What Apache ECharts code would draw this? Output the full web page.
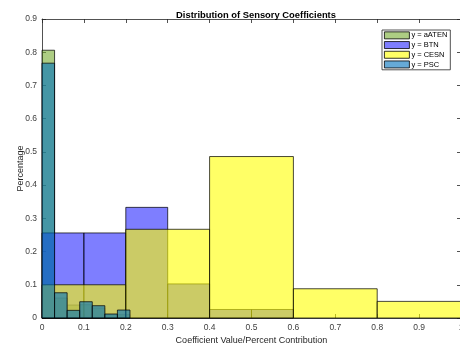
<!DOCTYPE html>
<html>
<head>
<meta charset="utf-8">
<script src="https://cdn.jsdelivr.net/npm/echarts@6/dist/echarts.min.js"></script>
<style>
html,body{margin:0;padding:0;background:#fff;}
#c{width:460px;height:344px;}
</style>
</head>
<body>
<div id="c"></div>
<script>
// ---- data ----
const seriesNames = ['y = aATEN', 'y = BTN', 'y = CESN', 'y = PSC'];
const aatenEdges = [0, 0.03, 0.06, 0.09, 0.12, 0.15, 0.18, 0.21];
const aatenValues = [0.806, 0.06, 0.039, 0.04, 0.03, 0.01, 0.01];
const btnEdges = [0, 0.1, 0.2, 0.3, 0.4, 0.5, 0.6];
const btnValues = [0.256, 0.256, 0.333, 0.1026, 0.0256, 0.0256];
const cesnEdges = [0, 0.2, 0.4, 0.6, 0.8, 1.0];
const cesnValues = [0.1, 0.267, 0.486, 0.088, 0.05];
const pscEdges = [0, 0.03, 0.06, 0.09, 0.12, 0.15, 0.18, 0.21];
const pscValues = [0.767, 0.076, 0.023, 0.049, 0.037, 0.012, 0.024];
const xTicks = [0, 0.1, 0.2, 0.3, 0.4, 0.5, 0.6, 0.7, 0.8, 0.9, 1];
const yTicks = [0, 0.1, 0.2, 0.3, 0.4, 0.5, 0.6, 0.7, 0.8, 0.9];

const fillColors = ['rgba(119,172,48,0.6)', 'rgba(40,40,255,0.6)', 'rgba(255,255,0,0.6)', 'rgba(0,114,189,0.6)'];
const allEdges = [aatenEdges, btnEdges, cesnEdges, pscEdges];
const allValues = [aatenValues, btnValues, cesnValues, pscValues];

function toBins(edges, values) {
  return values.map((v, i) => [edges[i], edges[i + 1], v]);
}

const chart = echarts.init(document.getElementById('c'), null, {renderer: 'canvas'});
const axisColor = '#262626';
const labelColor = '#404040';
const font = 'Liberation Sans, Arial, sans-serif';

const series = seriesNames.map((name, k) => ({
  type: 'custom',
  name: name,
  xAxisIndex: 0,
  yAxisIndex: 0,
  itemStyle: {color: fillColors[k]},
  data: toBins(allEdges[k], allValues[k]),
  encode: {x: [0, 1], y: 2},
  z: 2 + k,
  renderItem: function (params, api) {
    const p0 = api.coord([api.value(0), api.value(2)]);
    const p1 = api.coord([api.value(1), 0]);
    return {
      type: 'rect',
      shape: {x: p0[0], y: p0[1], width: p1[0] - p0[0], height: p1[1] - p0[1]},
      style: {fill: fillColors[k], stroke: 'rgba(0,0,0,0.9)', lineWidth: 0.8}
    };
  }
}));

const option = {
  animation: false,
  backgroundColor: '#fff',
  title: {
    text: 'Distribution of Sensory Coefficients',
    left: 251,
    top: 6,
    textAlign: 'center',
    textStyle: {fontFamily: font, fontSize: 9.4, fontWeight: 'bold', color: '#000'}
  },
  legend: {
    orient: 'vertical',
    left: 382,
    top: 30,
    icon: 'rect',
    itemWidth: 25,
    itemHeight: 7,
    itemGap: 1,
    padding: [1, 3, 1, 2],
    borderColor: '#262626',
    borderWidth: 0.8,
    backgroundColor: '#fff',
    textStyle: {fontFamily: font, fontSize: 7.5, color: '#000', lineHeight: 8.7, padding: [0, 0, 0, -3]},
    data: seriesNames.map((n, k) => ({name: n, itemStyle: {color: fillColors[k], borderColor: '#000', borderWidth: 0.8}}))
  },
  grid: {left: 42, right: -1, top: 19, bottom: 26, containLabel: false, outerBoundsMode: 'none'},
  xAxis: [
    {
      type: 'value', min: 0, max: 1, interval: 0.1, position: 'bottom',
      axisLine: {show: true, lineStyle: {color: axisColor, width: 0.8}},
      axisTick: {show: true, inside: true, length: 4, lineStyle: {color: axisColor, width: 0.8}},
      axisLabel: {
        margin: 5, color: labelColor, fontSize: 8.5, fontFamily: font,
        customValues: xTicks,
        formatter: v => String(Math.round(v * 10) / 10)
      },
      splitLine: {show: false},
      name: 'Coefficient Value/Percent Contribution',
      nameLocation: 'middle',
      nameGap: 18,
      nameMoveOverlap: false,
      nameTextStyle: {fontFamily: font, fontSize: 9, color: '#262626'}
    },
    {
      type: 'value', min: 0, max: 1, interval: 0.1, position: 'top',
      axisLine: {show: true, onZero: false, lineStyle: {color: axisColor, width: 0.8}},
      axisTick: {show: true, inside: true, length: 4, lineStyle: {color: axisColor, width: 0.8}},
      axisLabel: {show: false},
      splitLine: {show: false}
    }
  ],
  yAxis: [
    {
      type: 'value', min: 0, max: 0.9, interval: 0.1, position: 'left',
      axisLine: {show: true, lineStyle: {color: axisColor, width: 0.8}},
      axisTick: {show: true, inside: true, length: 4, lineStyle: {color: axisColor, width: 0.8}},
      axisLabel: {
        margin: 5, color: labelColor, fontSize: 8.5, fontFamily: font,
        customValues: yTicks,
        formatter: v => String(Math.round(v * 10) / 10)
      },
      splitLine: {show: false},
      name: 'Percentage',
      nameLocation: 'middle',
      nameGap: 17,
      nameMoveOverlap: false,
      nameTextStyle: {fontFamily: font, fontSize: 9, color: '#262626'}
    },
    {
      type: 'value', min: 0, max: 0.9, interval: 0.1, position: 'right',
      axisLine: {show: true, onZero: false, lineStyle: {color: axisColor, width: 0.8}},
      axisTick: {show: true, inside: true, length: 4, lineStyle: {color: axisColor, width: 0.8}},
      axisLabel: {show: false},
      splitLine: {show: false}
    }
  ],
  series: series
};
chart.setOption(option);
</script>
</body>
</html>
